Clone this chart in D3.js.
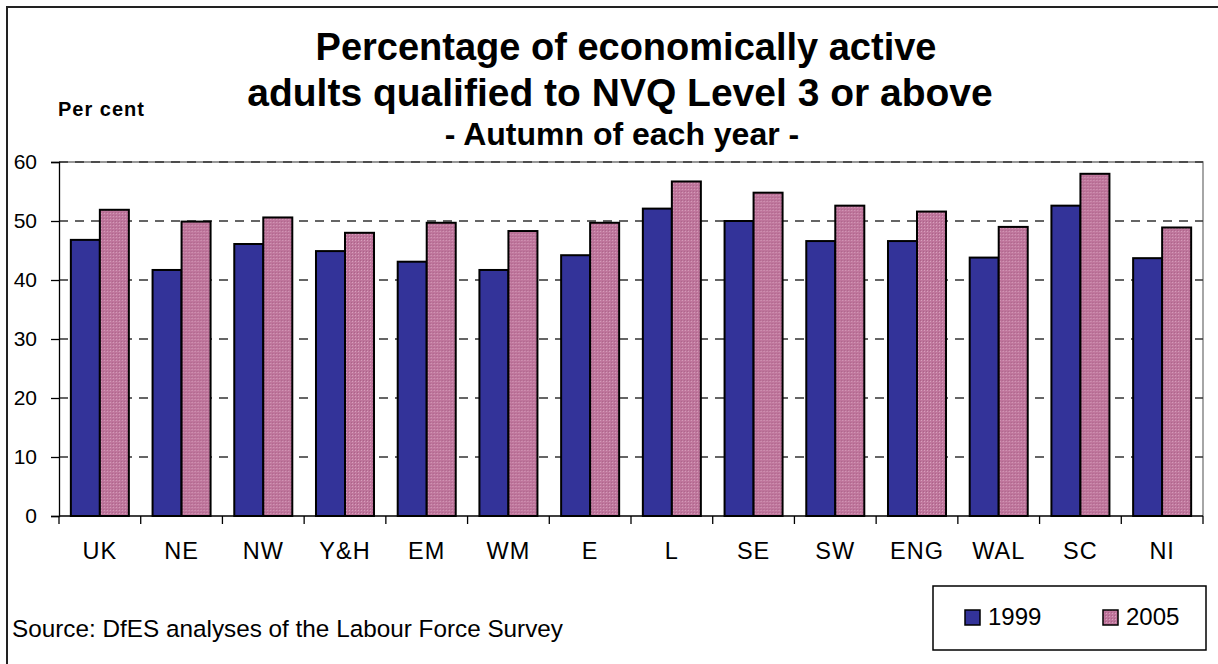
<!DOCTYPE html>
<meta charset="utf-8">
<style>
  body { margin: 0; background: #fff; }
  svg { display: block; font-family: "Liberation Sans", Arial, sans-serif; }
  .tick text { fill: #000; }
</style>
<svg width="1218" height="664"></svg>
<script src="https://d3js.org/d3.v7.min.js"></script>
<script>

// data
var regions = ["UK", "NE", "NW", "Y&H", "EM", "WM", "E", "L", "SE", "SW", "ENG", "WAL", "SC", "NI"];
var years = ["1999", "2005"];
var values1999 = [46.8, 41.7, 46.1, 44.9, 43.1, 41.7, 44.2, 52.1, 50.0, 46.6, 46.6, 43.8, 52.6, 43.7];
var values2005 = [51.9, 49.9, 50.6, 48.0, 49.7, 48.3, 49.7, 56.7, 54.8, 52.6, 51.6, 49.0, 58.0, 48.9];
var yTicks = [0, 10, 20, 30, 40, 50, 60];

var svg = d3.select("svg"),
    plotLeft = 59, plotRight = 1203, plotTop = 162, plotBottom = 516;

var data = regions.map(function(r, i) {
  return { region: r, values: [values1999[i], values2005[i]] };
});

// pink dotted fill like the excel pattern
var defs = svg.append("defs");
var pat = defs.append("pattern").attr("id", "pink").attr("patternUnits", "userSpaceOnUse")
    .attr("width", 3).attr("height", 3);
pat.append("rect").attr("width", 3).attr("height", 3).attr("fill", "#bf769c");
pat.append("rect").attr("width", 1).attr("height", 1).attr("fill", "#d7a0bd");
pat.append("rect").attr("x", 2).attr("y", 2).attr("width", 1).attr("height", 1).attr("fill", "#ab6389");

var colors = ["#333399", "url(#pink)"];

// outer frame (right/bottom edges fall outside the window)
svg.append("path")
    .attr("d", "M7,664V7H1218")
    .attr("fill", "none").attr("stroke", "#222").attr("stroke-width", 2);

var x0 = d3.scaleBand().domain(regions).range([plotLeft, plotRight])
    .paddingInner(0.29).paddingOuter(0.145);
var x1 = d3.scaleBand().domain(years).range([0, x0.bandwidth()]);
var y = d3.scaleLinear().domain([0, 60]).range([plotBottom, plotTop]);

// plot border (top + right), then dashed grid
svg.append("path")
    .attr("d", "M" + plotLeft + "," + plotTop + "H" + plotRight + "V" + plotBottom)
    .attr("fill", "none").attr("stroke", "#777").attr("stroke-width", 1.3);

svg.append("g").selectAll("line")
  .data(yTicks.filter(function(d) { return d > 0; }))
  .enter().append("line")
    .attr("x1", plotLeft).attr("x2", plotRight)
    .attr("y1", function(d) { return y(d); }).attr("y2", function(d) { return y(d); })
    .attr("stroke", "#333").attr("stroke-width", 1.3)
    .attr("stroke-dasharray", "9,7");

// bars
var groups = svg.append("g").selectAll("g")
  .data(data)
  .enter().append("g")
    .attr("transform", function(d) { return "translate(" + x0(d.region) + ",0)"; });

groups.selectAll("rect")
  .data(function(d) { return d.values.map(function(v, i) { return { year: years[i], value: v, i: i }; }); })
  .enter().append("rect")
    .attr("x", function(d) { return x1(d.year); })
    .attr("y", function(d) { return y(d.value); })
    .attr("width", x1.bandwidth())
    .attr("height", function(d) { return plotBottom - y(d.value); })
    .attr("fill", function(d) { return colors[d.i]; })
    .attr("stroke", "#000").attr("stroke-width", 2);

// y axis
var yAxis = svg.append("g").attr("transform", "translate(" + plotLeft + ",0)")
    .call(d3.axisLeft(y).tickValues(yTicks).tickSize(8).tickPadding(14));
yAxis.selectAll("text").style("font-size", "21px");
yAxis.selectAll("line, path").attr("stroke", "#000").attr("stroke-width", 1.3);

// x axis with ticks at band edges
var xAxis = svg.append("g").attr("transform", "translate(0," + plotBottom + ")");
xAxis.append("line").attr("x1", plotLeft).attr("x2", plotRight).attr("stroke", "#000").attr("stroke-width", 1.3);
xAxis.selectAll(".xt")
  .data(regions.concat(["end"]))
  .enter().append("line")
    .attr("x1", function(d, i) { return plotLeft + i * x0.step(); })
    .attr("x2", function(d, i) { return plotLeft + i * x0.step(); })
    .attr("y1", 0).attr("y2", 8)
    .attr("stroke", "#000").attr("stroke-width", 1.3);
xAxis.selectAll("text")
  .data(regions)
  .enter().append("text")
    .attr("x", function(d) { return x0(d) + x0.bandwidth() / 2; })
    .attr("y", 43)
    .attr("text-anchor", "middle")
    .style("font-size", "23.5px").style("letter-spacing", "1px")
    .text(function(d) { return d; });

// titles
svg.append("text").attr("x", 626).attr("y", 60).attr("text-anchor", "middle")
    .style("font-size", "38px").style("font-weight", "bold")
    .text("Percentage of economically active");
svg.append("text").attr("x", 620).attr("y", 106).attr("text-anchor", "middle")
    .style("font-size", "39px").style("font-weight", "bold")
    .text("adults qualified to NVQ Level 3 or above");
svg.append("text").attr("x", 622).attr("y", 145).attr("text-anchor", "middle")
    .style("font-size", "32px").style("font-weight", "bold")
    .text("- Autumn of each year -");
svg.append("text").attr("x", 58).attr("y", 116)
    .style("font-size", "20px").style("font-weight", "bold").style("letter-spacing", "1px")
    .text("Per cent");

svg.append("text").attr("x", 12).attr("y", 637)
    .style("font-size", "24.3px")
    .text("Source: DfES analyses of the Labour Force Survey");

// legend
var legend = svg.append("g");
legend.append("rect").attr("x", 933).attr("y", 586).attr("width", 273).attr("height", 64)
    .attr("fill", "#fff").attr("stroke", "#000").attr("stroke-width", 1.5);
var item = legend.selectAll(".item")
  .data(years)
  .enter().append("g")
    .attr("transform", function(d, i) { return "translate(" + (965 + i * 138) + ",610)"; });
item.append("rect").attr("width", 15).attr("height", 15)
    .attr("fill", function(d, i) { return colors[i]; })
    .attr("stroke", "#000").attr("stroke-width", 1.5);
item.append("text").attr("x", 23).attr("y", 15)
    .style("font-size", "24px")
    .text(function(d) { return d; });

</script>
